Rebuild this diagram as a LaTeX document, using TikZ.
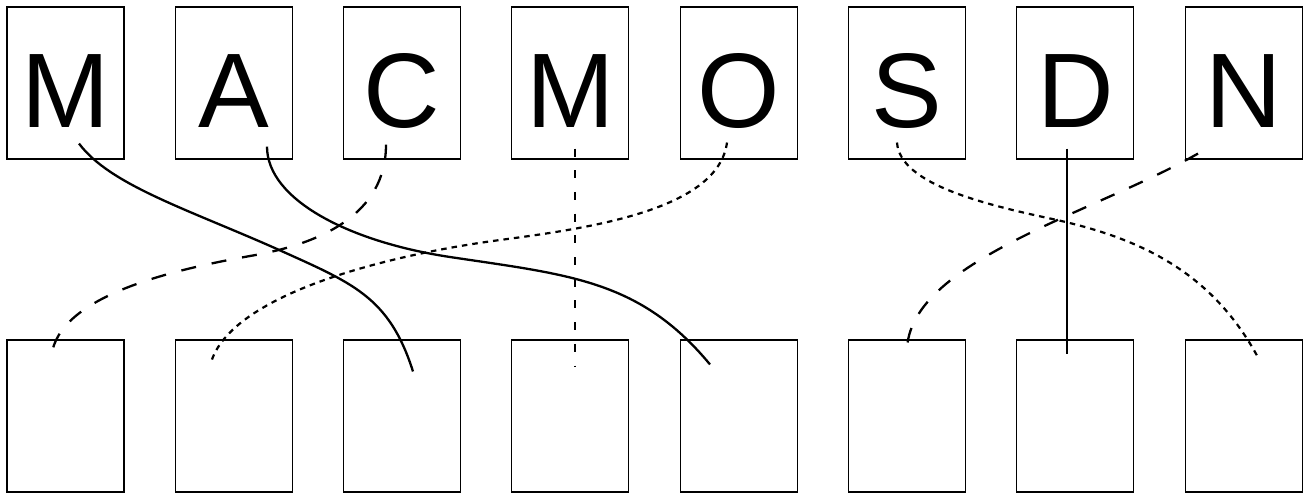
\documentclass[tikz,border=0pt]{standalone}
\usepackage{fontspec}
\setmainfont{Liberation Sans}
\begin{document}
\begin{tikzpicture}[x=1pt,y=-1pt,
  box/.style={draw, line width=1.1pt, minimum width=117pt, minimum height=152pt,
    inner sep=0pt, text height=88pt, text depth=0pt, font=\fontsize{106}{106}\selectfont},
  solidlink/.style={line width=2.3pt},
  longdash/.style={line width=2.3pt, dash pattern=on 15pt off 16pt},
  shortdash/.style={line width=2.2pt, dash pattern=on 5.5pt off 5pt},
  thindash/.style={line width=1.7pt, dash pattern=on 8pt off 13.7pt}]
\useasboundingbox (0,0) rectangle (1307,493);
% top lettered boxes
\foreach \i/\l in {1/M,2/A,3/C,4/M,5/O,6/S,7/D,8/N}
  \node[box] (t\i) at ({65.5+168.3*(\i-1)},83) {\l};
% bottom empty boxes
\foreach \i in {1,...,8}
  \node[box] (b\i) at ({65.5+168.3*(\i-1)},416) {};
% connectors
\draw[solidlink] ([shift={(13.5,-16)}]t1.south)
  .. controls (110,185) and (187,209) .. (277,249)
  .. controls (352,283) and (389,296) .. ([shift={(10.9,32)}]b3.north);
\draw[solidlink] ([shift={(33.2,-13)}]t2.south)
  .. controls (267,200) and (350,242) .. (450,257)
  .. controls (570,275) and (640,280) .. ([shift={(-28.7,25)}]b5.north);
\draw[longdash] ([shift={(-16.1,-15)}]t3.south)
  .. controls (386,215) and (320,244) .. (250,256)
  .. controls (160,272) and (52,300) .. ([shift={(-14.5,22)}]b1.north);
\draw[thindash] ([shift={(4.6,-11)}]t4.south) -- ([shift={(4.6,28)}]b4.north);
\draw[shortdash] ([shift={(-11.7,-17)}]t5.south)
  .. controls (718,210) and (590,228) .. (500,240)
  .. controls (380,256) and (231,296) .. ([shift={(-22.8,23)}]b2.north);
\draw[shortdash] ([shift={(-10,-17)}]t6.south)
  .. controls (900,185) and (987,205) .. (1057,220)
  .. controls (1137,238) and (1211,270) .. ([shift={(14.4,18)}]b8.north);
\draw[solidlink] ([shift={(-8.3,-11)}]t7.south) -- ([shift={(-8.3,15)}]b7.north);
\draw[longdash] ([shift={(-45.6,-6)}]t8.south)
  .. controls (1094,213) and (907,262) .. ([shift={(0,12)}]b6.north);
\end{tikzpicture}
\end{document}
